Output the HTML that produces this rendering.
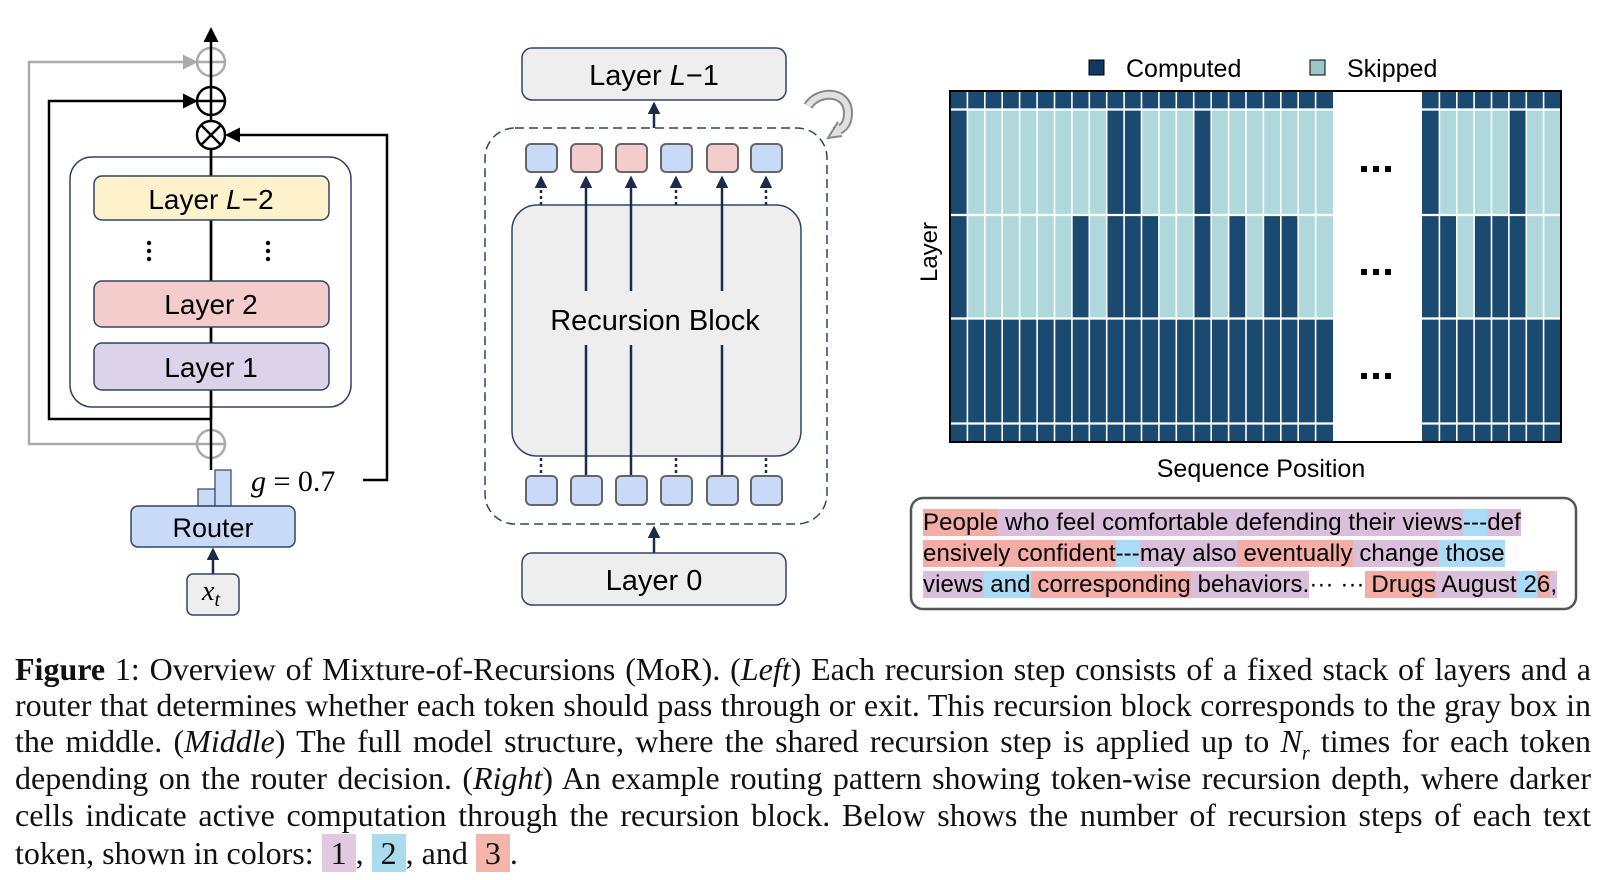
<!DOCTYPE html>
<html><head><meta charset="utf-8">
<style>
html,body{margin:0;padding:0;background:#fff;}
body{width:1604px;height:880px;position:relative;overflow:hidden;}
.cap{position:absolute;left:15px;width:1576px;font-family:"Liberation Serif",serif;font-size:32px;color:#111;white-space:nowrap;text-align:justify;text-align-last:justify;line-height:36px;}
.tb{position:absolute;left:923px;font-family:"Liberation Sans",sans-serif;font-size:24px;letter-spacing:0.1px;white-space:pre;line-height:31px;color:#000;}
.r{background:#f4aca6}.p{background:#d9bfdc}.b{background:#aadcf8}
.hl{display:inline-block;padding:0 9px;line-height:38px;}
</style></head><body>
<svg width="1604" height="880" style="position:absolute;left:0;top:0" xmlns="http://www.w3.org/2000/svg">
<defs>
<marker id="ab" viewBox="0 0 10 10" refX="8" refY="5" markerWidth="6" markerHeight="6" orient="auto"><path d="M0,0L10,5L0,10z" fill="#000"/></marker>
<marker id="ag" viewBox="0 0 10 10" refX="8" refY="5" markerWidth="6" markerHeight="6" orient="auto"><path d="M0,0L10,5L0,10z" fill="#aaa"/></marker>
<marker id="an" viewBox="0 0 10 10" refX="8" refY="5" markerWidth="5" markerHeight="5" orient="auto"><path d="M0,0L10,5L0,10z" fill="#1a2b4c"/></marker>
</defs>
<g font-family="Liberation Sans, sans-serif" font-size="28" text-anchor="middle">
<path d="M197,444 H29 V62 H195" fill="none" stroke="#aaa" stroke-width="2.5" marker-end="url(#ag)"/>
<circle cx="211" cy="62" r="14" fill="none" stroke="#aaa" stroke-width="2.5"/>
<circle cx="211" cy="444" r="14" fill="none" stroke="#aaa" stroke-width="2.5"/>
<line x1="197" y1="62" x2="225" y2="62" stroke="#aaa" stroke-width="2.5"/>
<line x1="197" y1="444" x2="225" y2="444" stroke="#aaa" stroke-width="2.5"/>
<path d="M211,419 H49 V101 H195" fill="none" stroke="#000" stroke-width="2.5" marker-end="url(#ab)"/>
<line x1="211" y1="470" x2="211" y2="30" stroke="#000" stroke-width="2.5" marker-end="url(#ab)"/>
<circle cx="211" cy="101" r="14" fill="none" stroke="#000" stroke-width="2.5"/>
<line x1="197" y1="101" x2="225" y2="101" stroke="#000" stroke-width="2.5"/>
<circle cx="211" cy="135" r="14" fill="#fff" stroke="#000" stroke-width="2.5"/>
<line x1="201" y1="125" x2="221" y2="145" stroke="#000" stroke-width="2.5"/>
<line x1="221" y1="125" x2="201" y2="145" stroke="#000" stroke-width="2.5"/>
<path d="M363,480 H387 V135 H228" fill="none" stroke="#000" stroke-width="2.5" marker-end="url(#ab)"/>
<rect x="70" y="157" width="281" height="250" rx="22" fill="none" stroke="#2f4566" stroke-width="1.5"/>
<line x1="211" y1="149" x2="211" y2="419" stroke="#000" stroke-width="2.5"/>
<rect x="94" y="176" width="235" height="44" rx="8" fill="#fdf2cc" stroke="#2f4566" stroke-width="1.5"/>
<text x="211" y="209">Layer <tspan font-style="italic">L</tspan>−2</text>
<g fill="#000"><circle cx="149" cy="243" r="2.2"/><circle cx="149" cy="251" r="2.2"/><circle cx="149" cy="259" r="2.2"/>
<circle cx="268" cy="243" r="2.2"/><circle cx="268" cy="251" r="2.2"/><circle cx="268" cy="259" r="2.2"/></g>
<rect x="94" y="281" width="235" height="46" rx="8" fill="#f4cccc" stroke="#2f4566" stroke-width="1.5"/>
<text x="211" y="314">Layer 2</text>
<rect x="94" y="343" width="235" height="47" rx="8" fill="#dcd3ea" stroke="#2f4566" stroke-width="1.5"/>
<text x="211" y="377">Layer 1</text>
<rect x="198" y="489" width="17" height="17" fill="#c9daf8" stroke="#2f4566" stroke-width="1.2"/>
<rect x="215" y="470" width="16" height="36" fill="#c9daf8" stroke="#2f4566" stroke-width="1.2"/>
<text x="251" y="491" text-anchor="start" font-family="Liberation Serif, serif" font-size="30"><tspan font-style="italic">g</tspan> = 0.7</text>
<rect x="131" y="506" width="164" height="41" rx="7" fill="#c9daf8" stroke="#2f4566" stroke-width="1.5"/>
<text x="213" y="537" font-size="27">Router</text>
<line x1="213" y1="574" x2="213" y2="550" stroke="#1a2b4c" stroke-width="2.5" marker-end="url(#an)"/>
<rect x="187" y="574" width="52" height="41" rx="6" fill="#eeeeee" stroke="#2f4566" stroke-width="1.5"/>
<text x="211" y="600" font-family="Liberation Serif, serif" font-style="italic" font-size="28">x<tspan font-size="20" dy="6">t</tspan></text>
</g>
<g font-family="Liberation Sans, sans-serif" font-size="29" text-anchor="middle">
<rect x="522" y="48" width="264" height="52" rx="10" fill="#eeeeee" stroke="#2f4566" stroke-width="1.5"/>
<text x="654" y="85">Layer <tspan font-style="italic">L</tspan>−1</text>
<line x1="654" y1="128" x2="654" y2="104" stroke="#1a2b4c" stroke-width="2.5" marker-end="url(#an)"/>
<rect x="485" y="128" width="342" height="396" rx="30" fill="none" stroke="#2f4566" stroke-width="1.5" stroke-dasharray="9,5"/>
<path d="M808,106 C818,90 848,90 848,113 C848,126 841,130 834,132" fill="none" stroke="#888" stroke-width="10"/>
<path d="M808,106 C818,90 848,90 848,113 C848,126 841,130 834,132" fill="none" stroke="#e0e0e0" stroke-width="6"/>
<path d="M838,122 L828,138 L842,136" fill="#e0e0e0" stroke="#888" stroke-width="2"/>
<rect x="512" y="205" width="289" height="251" rx="25" fill="#eeeeee" stroke="#2f4566" stroke-width="1.5"/>
<text x="655" y="330">Recursion Block</text>
<g stroke="#1a2b4c" stroke-width="2.5">
<line x1="586" y1="476" x2="586" y2="345"/><line x1="586" y1="291" x2="586" y2="178" marker-end="url(#an)"/>
<line x1="631" y1="476" x2="631" y2="345"/><line x1="631" y1="291" x2="631" y2="178" marker-end="url(#an)"/>
<line x1="722" y1="476" x2="722" y2="345"/><line x1="722" y1="291" x2="722" y2="178" marker-end="url(#an)"/>
<g stroke-dasharray="3,3"><line x1="541" y1="205" x2="541" y2="178" marker-end="url(#an)"/>
<line x1="676" y1="205" x2="676" y2="178" marker-end="url(#an)"/>
<line x1="766" y1="205" x2="766" y2="178" marker-end="url(#an)"/>
<line x1="541" y1="458" x2="541" y2="476"/><line x1="676" y1="458" x2="676" y2="476"/><line x1="766" y1="458" x2="766" y2="476"/></g>
</g>
<g stroke="#666" stroke-width="2">
<rect x="526" y="144" width="31" height="28" rx="5" fill="#c9daf8"/>
<rect x="571" y="144" width="31" height="28" rx="5" fill="#f4cccc"/>
<rect x="616" y="144" width="31" height="28" rx="5" fill="#f4cccc"/>
<rect x="661" y="144" width="31" height="28" rx="5" fill="#c9daf8"/>
<rect x="707" y="144" width="31" height="28" rx="5" fill="#f4cccc"/>
<rect x="751" y="144" width="31" height="28" rx="5" fill="#c9daf8"/>
<rect x="526" y="476" width="31" height="29" rx="5" fill="#c9daf8"/>
<rect x="571" y="476" width="31" height="29" rx="5" fill="#c9daf8"/>
<rect x="616" y="476" width="31" height="29" rx="5" fill="#c9daf8"/>
<rect x="661" y="476" width="31" height="29" rx="5" fill="#c9daf8"/>
<rect x="707" y="476" width="31" height="29" rx="5" fill="#c9daf8"/>
<rect x="751" y="476" width="31" height="29" rx="5" fill="#c9daf8"/>
</g>
<line x1="654" y1="553" x2="654" y2="528" stroke="#1a2b4c" stroke-width="2.5" marker-end="url(#an)"/>
<rect x="522" y="553" width="264" height="52" rx="10" fill="#eeeeee" stroke="#2f4566" stroke-width="1.5"/>
<text x="654" y="590">Layer 0</text>
</g>
<g>
<rect x="950" y="91" width="383" height="351" fill="#1b4a70"/>
<rect x="1422" y="91" width="139" height="351" fill="#1b4a70"/>
<g fill="#afd8dc">
<rect x="967.4" y="110" width="139.3" height="104"/><rect x="1141.5" y="110" width="52.2" height="104"/>
<rect x="1211.2" y="110" width="87" height="104"/><rect x="1298.2" y="110" width="34.8" height="104"/>
<rect x="967.4" y="216" width="104.5" height="102"/><rect x="1089.3" y="216" width="17.4" height="102"/>
<rect x="1158.9" y="216" width="34.8" height="102"/><rect x="1211.2" y="216" width="17.4" height="102"/>
<rect x="1246" y="216" width="17.4" height="102"/><rect x="1298.2" y="216" width="34.8" height="102"/>
<rect x="1439.4" y="110" width="69.5" height="104"/><rect x="1526.3" y="110" width="34.7" height="104"/>
<rect x="1456.8" y="216" width="17.3" height="102"/><rect x="1526.3" y="216" width="34.7" height="102"/>
</g>
<path d="M967.4,91V442M984.8,91V442M1002.2,91V442M1019.6,91V442M1037.1,91V442M1054.5,91V442M1071.9,91V442M1089.3,91V442M1106.7,91V442M1124.1,91V442M1141.5,91V442M1158.9,91V442M1176.3,91V442M1193.7,91V442M1211.2,91V442M1228.6,91V442M1246,91V442M1263.4,91V442M1280.8,91V442M1298.2,91V442M1315.6,91V442M1439.4,91V442M1456.8,91V442M1474.1,91V442M1491.5,91V442M1508.9,91V442M1526.3,91V442M1543.6,91V442" stroke="#fff" stroke-width="1.6"/>
<path d="M950,109.5H1561M950,215H1561M950,318.5H1561M950,423.5H1561" stroke="#fff" stroke-width="2.2"/>
<rect x="950" y="91" width="611" height="351" fill="none" stroke="#000" stroke-width="2"/>
<g fill="#000">
<rect x="1361" y="166" width="6" height="6"/><rect x="1373" y="166" width="6" height="6"/><rect x="1385" y="166" width="6" height="6"/>
<rect x="1361" y="269" width="6" height="6"/><rect x="1373" y="269" width="6" height="6"/><rect x="1385" y="269" width="6" height="6"/>
<rect x="1361" y="373" width="6" height="6"/><rect x="1373" y="373" width="6" height="6"/><rect x="1385" y="373" width="6" height="6"/>
</g>
<rect x="1089" y="60" width="15" height="15" fill="#0f3a60" stroke="#000" stroke-width="1"/>
<text x="1126" y="77" font-family="Liberation Sans, sans-serif" font-size="25">Computed</text>
<rect x="1310" y="60" width="15" height="15" fill="#98c8c8" stroke="#000" stroke-width="1"/>
<text x="1347" y="77" font-family="Liberation Sans, sans-serif" font-size="25">Skipped</text>
<text transform="translate(937,252) rotate(-90)" text-anchor="middle" font-family="Liberation Sans, sans-serif" font-size="24">Layer</text>
<text x="1261" y="477" text-anchor="middle" font-family="Liberation Sans, sans-serif" font-size="25">Sequence Position</text>
<rect x="911" y="498" width="665" height="111" rx="12" fill="none" stroke="#555" stroke-width="2.5"/>
</g>
</svg>
<div class="tb" style="top:507px"><span class="r">People</span><span class="p"> who feel comfortable defending their views</span><span class="b">---</span><span class="p">def</span></div>
<div class="tb" style="top:538px"><span class="r">ensively confident</span><span class="b">---</span><span class="p">may also</span><span class="r"> eventually</span><span class="p"> change</span><span class="b"> those</span></div>
<div class="tb" style="top:569px"><span class="p">views</span><span class="b"> and</span><span class="r"> corresponding</span><span class="p"> behaviors.</span>··· ···<span class="r"> Drugs</span><span class="p"> August</span><span class="b"> 2</span><span class="r">6</span><span class="p">,</span></div>

<div class="cap" style="top:651px"><b>Figure</b> 1: Overview of Mixture-of-Recursions (MoR). (<i>Left</i>) Each recursion step consists of a fixed stack of layers and a</div>
<div class="cap" style="top:687px">router that determines whether each token should pass through or exit. This recursion block corresponds to the gray box in</div>
<div class="cap" style="top:723px">the middle. (<i>Middle</i>) The full model structure, where the shared recursion step is applied up to <i>N<sub style="font-size:20px">r</sub></i> times for each token</div>
<div class="cap" style="top:760px">depending on the router decision. (<i>Right</i>) An example routing pattern showing token-wise recursion depth, where darker</div>
<div class="cap" style="top:797px">cells indicate active computation through the recursion block. Below shows the number of recursion steps of each text</div>
<div class="cap" style="top:834px;text-align:left;text-align-last:left">token, shown in colors: <span class="hl" style="background:#e1c9e0">1</span>, <span class="hl" style="background:#aadcee">2</span>, and <span class="hl" style="background:#f4b6ac">3</span>.</div>
</body></html>
